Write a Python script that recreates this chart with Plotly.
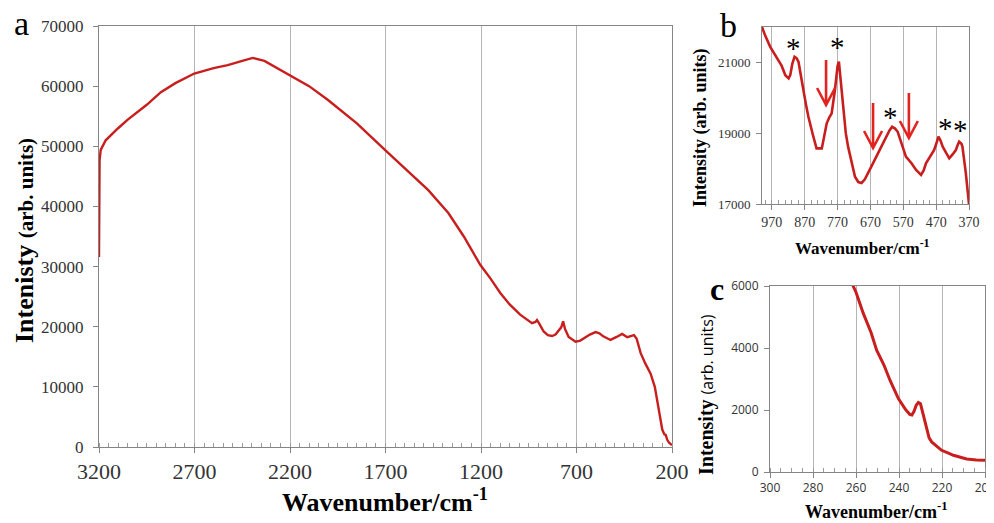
import plotly.graph_objects as go

# ---------------- data ----------------
# panel a: full spectrum
wn_a = [3200, 3199, 3197, 3191, 3165, 3100, 3051, 2950, 2876, 2800, 2701, 2600, 2526, 2450,
        2395, 2334, 2204, 2100, 2001, 1850, 1703, 1600, 1476, 1371, 1290, 1204, 1150, 1099,
        1050, 995, 960, 933, 915, 907, 895, 872, 850, 828, 810, 793, 780, 770, 760, 741,
        705, 680, 662, 630, 600, 580, 560, 522, 490, 461, 434, 399, 385, 364, 340, 312,
        290, 277, 260, 251, 240, 233, 225, 215, 205, 200]
int_a = [31600, 40000, 47700, 49400, 51000, 53000, 54400, 56900, 59000, 60500, 62100, 63000,
         63500, 64200, 64700, 64200, 61900, 60000, 57700, 53800, 49400, 46400, 42700, 38900,
         35000, 30300, 28000, 25600, 23700, 22000, 21200, 20600, 20800, 21100, 20500, 19200,
         18600, 18450, 18700, 19400, 19900, 20900, 19600, 18300, 17500, 17700, 18100, 18700,
         19100, 18900, 18400, 17800, 18300, 18800, 18250, 18600, 18000, 15600, 13900, 12200,
         10000, 7800, 4600, 2900, 2100, 2000, 1200, 700, 450, 300]

# panel b: 1000-370 cm-1 detail
wn_b = [1000, 990, 975, 955, 940, 929, 919, 914, 908, 901, 895, 889, 880, 874, 866, 859, 845,
        834, 818, 810, 803, 795, 788, 778, 770, 766, 760, 753, 745, 738, 725, 717, 707, 697,
        687, 677, 665, 652, 637, 622, 612, 604, 595, 587, 575, 562, 545, 531, 516, 508, 501,
        490, 476, 468, 463, 457, 450, 440, 430, 420, 410, 405, 400, 393, 390, 380, 371, 370]
int_b = [22000, 21750, 21440, 21110, 20900, 20640, 20550, 20640, 20950, 21160, 21120, 21020,
         20600, 20220, 19800, 19470, 18950, 18570, 18570, 18950, 19280, 19450, 19560, 20220,
         20900, 21020, 20400, 19650, 19000, 18620, 18050, 17770, 17620, 17590, 17700, 17870,
         18100, 18340, 18620, 18900, 19080, 19180, 19130, 19040, 18700, 18340, 18150, 17960,
         17820, 17950, 18150, 18300, 18525, 18750, 18900, 18800, 18620, 18450, 18290, 18400,
         18525, 18650, 18760, 18700, 18620, 17900, 17020, 17000]

star_wn = [903, 769, 610, 443, 395]
star_int = [21407, 21435, 19458, 19147, 19090]
arrow_wn = [805, 662, 553]
arrow_int = [19797, 18582, 18864]

# panel c: 300-200 cm-1 detail
wn_c = [262, 260, 256.6, 253, 250.4, 247, 244.2, 240.3, 237, 235, 234, 233, 232, 231, 230,
        229.5, 228, 227, 226, 224.8, 222, 220.2, 217, 214.7, 211, 208.5, 204, 200]
int_c = [6100, 5800, 5117, 4500, 3930, 3450, 2960, 2370, 2020, 1860, 1840, 1960, 2150, 2240,
         2200, 2050, 1600, 1300, 1100, 970, 820, 700, 610, 540, 470, 420, 390, 380]

# ---------------- styling ----------------
PAGE_W, PAGE_H = 994, 523
OFF = 8  # default body margin of the html page
W, H = PAGE_W - OFF, PAGE_H - OFF
SERIF = "Liberation Serif, Times New Roman, serif"
SANS = "Open Sans, Liberation Sans, sans-serif"
RED = "#c81e1e"
ARROW_RED = "#e3231f"
AX = "#858585"
GRID = "#b5b5b5"
TXT = "#333333"


def px_x(p):
    return (p - OFF) / W


def px_y(p):
    return 1 - (p - OFF) / H


fig = go.Figure()
fig.add_trace(go.Scatter(x=wn_a, y=int_a, mode="lines", line=dict(color=RED, width=2.4),
                         xaxis="x", yaxis="y", showlegend=False))
fig.add_trace(go.Scatter(x=wn_b, y=int_b, mode="lines", line=dict(color=RED, width=2.6),
                         xaxis="x2", yaxis="y2", showlegend=False))
fig.add_trace(go.Scatter(x=wn_c, y=int_c, mode="lines", line=dict(color=RED, width=3),
                         xaxis="x3", yaxis="y3", showlegend=False))


def xax(domain, rng, tick0, dtick, mtick0, mdtick, font, anchor):
    return dict(domain=domain, range=rng, tickmode="linear", tick0=tick0, dtick=dtick,
                showgrid=True, gridcolor=GRID, gridwidth=1, zeroline=False,
                showline=True, linecolor=AX, linewidth=1, mirror=True,
                ticks="outside", ticklen=5, tickcolor=AX, tickfont=font,
                tickformat="d", automargin=False, anchor=anchor,
                ticklabeloverflow="allow",
                minor=dict(ticks="inside", tick0=mtick0, dtick=mdtick, ticklen=4,
                           tickcolor="#9a9a9a", showgrid=False),
                fixedrange=True)


def yax(domain, rng, tick0, dtick, font, anchor, standoff):
    return dict(domain=domain, range=rng, tickmode="linear", tick0=tick0, dtick=dtick,
                showgrid=False, zeroline=False, showline=True, linecolor=AX, linewidth=1,
                mirror=True, ticks="outside", ticklen=5, tickcolor=AX, tickfont=font,
                tickformat="d", automargin=False,
                anchor=anchor, ticklabelstandoff=standoff, fixedrange=True)


layout = dict(
    width=W, height=H, margin=dict(l=0, r=0, t=0, b=0, autoexpand=False),
    paper_bgcolor="white", plot_bgcolor="white", showlegend=False,
    xaxis=xax([px_x(99), px_x(672)], [3200, 200], 200, 500, 200, 50,
              dict(family=SERIF, size=22, color=TXT), "y"),
    yaxis=yax([px_y(447), px_y(26)], [0, 70000], 0, 10000,
              dict(family=SERIF, size=17, color=TXT), "x", 6),
    xaxis2=xax([px_x(762), px_x(969)], [1000, 370], 370, 100, 370, 20,
               dict(family=SERIF, size=14, color=TXT), "y2"),
    yaxis2=yax([px_y(204), px_y(27)], [17000, 22000], 17000, 2000,
               dict(family=SERIF, size=13, color=TXT), "x2", 3),
    xaxis3=xax([px_x(770), px_x(985)], [300, 200], 200, 20, 200, 5,
               dict(family=SANS, size=12, color=TXT), "y3"),
    yaxis3=yax([px_y(472), px_y(286)], [0, 6000], 0, 2000,
               dict(family=SANS, size=12, color=TXT), "x3", 3),
)
fig.update_layout(**layout)

ann = []


def paper_text(text, x, y, size, family=SERIF, angle=0, color="black"):
    ann.append(dict(text=text, x=px_x(x), y=px_y(y), xref="paper", yref="paper",
                    showarrow=False, xanchor="center", yanchor="middle", textangle=angle,
                    font=dict(family=family, size=size, color=color)))


# panel letters
paper_text("a", 21, 24, 34)
paper_text("b", 728, 25, 34)
paper_text("<b>c</b>", 717, 289, 32)

# axis titles
paper_text("<b>Wavenumber/cm<sup>-1</sup></b>", 385, 500, 26)
paper_text("<b>Intenisty</b> <span style='font-size:21px'><b>(arb. units)</b></span>",
           24, 241, 26, angle=-90)
paper_text("<b>Wavenumber/cm<sup>-1</sup></b>", 862, 247, 17)
paper_text("<b>Intensity (arb. units)</b>", 700, 128, 18, angle=-90)
paper_text("<b>Wavenumber/cm<sup>-1</sup></b>", 876, 510, 18)
paper_text("<b>Intensity</b> <span style='font-family:Open Sans;font-size:16px'>(arb. units)</span>",
           706, 395, 20, angle=-90)

# asterisks on panel b
for w, v in zip(star_wn, star_int):
    ann.append(dict(text="*", x=w, y=v, xref="x2", yref="y2", showarrow=False,
                    xanchor="center", yanchor="middle",
                    font=dict(family=SERIF, size=29, color="black")))

fig.update_layout(annotations=ann)

# red arrows on panel b (shaft + open head), sized in pixels
shapes = []
for w, v in zip(arrow_wn, arrow_int):
    shapes.append(dict(type="path", xref="x2", yref="y2",
                       xsizemode="pixel", ysizemode="pixel", xanchor=w, yanchor=v,
                       path="M0,0 L0,45 M-9,17 L0,0 L9,17",
                       line=dict(color=ARROW_RED, width=2.6)))
fig.update_layout(shapes=shapes)

fig.write_html("out.html")
